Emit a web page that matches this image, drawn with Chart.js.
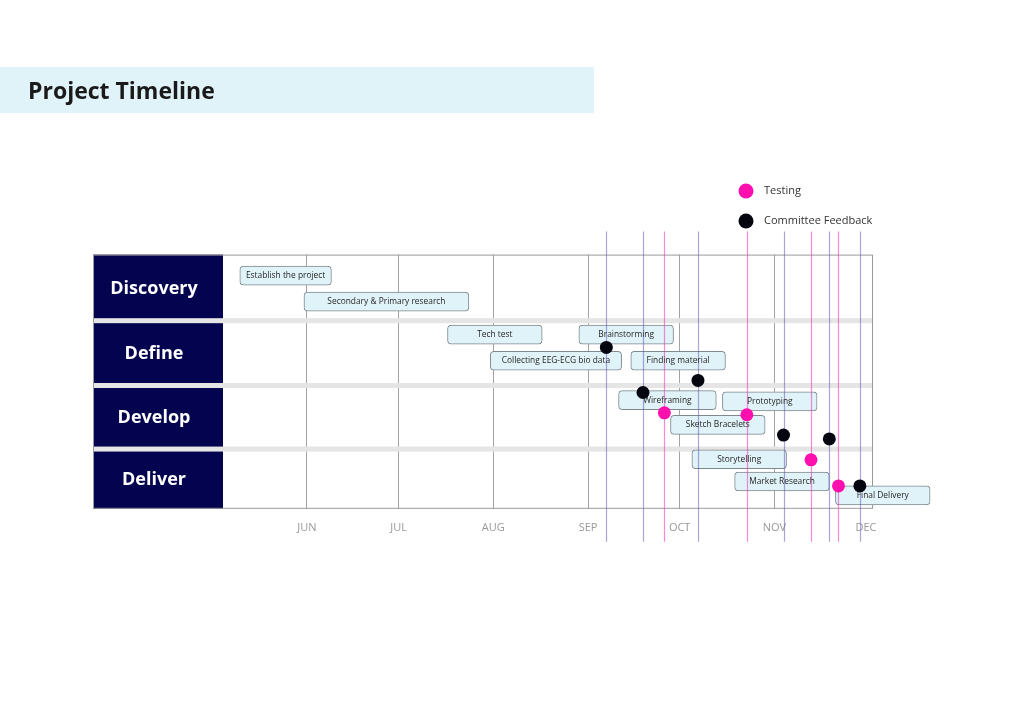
<!DOCTYPE html>
<html>
<head>
<meta charset="utf-8">
<title>Project Timeline</title>
<script src="https://cdn.jsdelivr.net/npm/chart.js@4.4.0/dist/chart.umd.min.js"></script>
<style>
  html, body { margin: 0; padding: 0; background: #fff; }
  #wrap { width: 1024px; height: 724px; position: relative; }
</style>
</head>
<body>
<div id="wrap"><canvas id="myChart"></canvas></div>
<script>
const ctx = document.getElementById("myChart").getContext("2d");

// phases down the left side, and where the grey separators sit on the row axis
const phases = ["Discovery", "Define", "Develop", "Deliver"];
const phaseBreaks = [1.04, 2.06, 3.06];

// month ticks
const monthLabels = ["JUN", "JUL", "AUG", "SEP", "OCT", "NOV", "DEC"];
const monthStarts = ["2023-06-01", "2023-07-01", "2023-08-01", "2023-09-01", "2023-10-01", "2023-11-01", "2023-12-01"];

// tasks
const taskNames = [
  "Establish the project",
  "Secondary & Primary research",
  "Tech test",
  "Brainstorming",
  "Collecting EEG-ECG bio data",
  "Finding material",
  "Wireframing",
  "Prototyping",
  "Sketch Bracelets",
  "Storytelling",
  "Market Research",
  "Final Delivery",
];
const taskStart = ["2023-05-10", "2023-05-31", "2023-07-17", "2023-08-29", "2023-07-31", "2023-09-15", "2023-09-11", "2023-10-15", "2023-09-28", "2023-10-05", "2023-10-19", "2023-11-21"];
const taskEnd = ["2023-06-09", "2023-07-24", "2023-08-17", "2023-09-29", "2023-09-12", "2023-10-16", "2023-10-13", "2023-11-15", "2023-10-29", "2023-11-05", "2023-11-19", "2023-12-22"];
const taskRow = [0.33, 0.74, 1.26, 1.26, 1.67, 1.67, 2.29, 2.31, 2.68, 3.22, 3.57, 3.79];

// milestones
const testingDates = ["2023-09-26", "2023-10-23", "2023-11-13", "2023-11-22"];
const testingRow = [2.49, 2.52, 3.23, 3.64];
const feedbackDates = ["2023-09-07", "2023-09-19", "2023-10-07", "2023-11-04", "2023-11-19", "2023-11-29"];
const feedbackRow = [1.46, 2.17, 1.98, 2.84, 2.9, 3.64];

// days counted from 1 June
const dayNum = (s) => (Date.parse(s) - Date.parse("2023-06-01")) / 86400000;

const FONT = "'Open Sans', 'Noto Sans', sans-serif";
const testingColor = "#ff0fae";
const feedbackColor = "#05050f";

const timelineDecor = {
  id: "timelineDecor",
  beforeDraw(chart) {
    const c = chart.ctx;
    c.save();
    // title band
    c.fillStyle = "#e0f3f8";
    c.fillRect(0, 67, 594, 46);
    c.restore();
  },
  beforeDatasetsDraw(chart) {
    const { ctx: c, chartArea: a } = chart;
    const y = chart.scales.y;
    const left = 93;
    const edges = [0, ...phaseBreaks, 4];
    c.save();
    phases.forEach((name, i) => {
      const top = y.getPixelForValue(edges[i]);
      const bottom = y.getPixelForValue(edges[i + 1]);
      c.fillStyle = "#03034f";
      c.fillRect(left, top, a.left - left, bottom - top);
      c.fillStyle = "#fff";
      c.font = "bold 18px " + FONT;
      c.textAlign = "center";
      c.textBaseline = "middle";
      c.fillText(name, 154, (top + bottom) / 2 + 1);
    });
    // grey separators between phases
    c.fillStyle = "#e5e5e5";
    phaseBreaks.forEach((v) => {
      const p = y.getPixelForValue(v);
      c.fillRect(left, p - 2.5, a.right - left, 5);
    });
    c.strokeStyle = "#9a9a9a";
    c.lineWidth = 1;
    c.strokeRect(left + 0.5, a.top + 0.5, a.right - left - 1, a.bottom - a.top - 1);
    c.restore();
  },
  afterDatasetDraw(chart, args) {
    if (args.index !== 0) return;
    const { ctx: c, chartArea: a } = chart;
    const x = chart.scales.x;
    c.save();
    // milestone guide lines
    const guides = [
      [chart.data.datasets[1].data, "rgba(236, 60, 190, 0.6)"],
      [chart.data.datasets[2].data, "rgba(100, 90, 190, 0.55)"],
    ];
    c.lineWidth = 1.2;
    guides.forEach(([pts, color]) => {
      c.strokeStyle = color;
      pts.forEach((p) => {
        const px = Math.round(x.getPixelForValue(p.x)) + 0.5;
        c.beginPath();
        c.moveTo(px, a.top - 23);
        c.lineTo(px, a.bottom + 33);
        c.stroke();
      });
    });
    // task names inside the bars
    c.fillStyle = "#262626";
    c.font = "8.4px " + FONT;
    c.textAlign = "center";
    c.textBaseline = "middle";
    chart.getDatasetMeta(0).data.forEach((bar, i) => {
      const pt = bar.getCenterPoint();
      c.fillText(taskNames[i], pt.x, pt.y);
    });
    c.restore();
  },
  afterDraw(chart) {
    const c = chart.ctx;
    c.save();
    [1, 2].forEach((di, k) => {
      const ds = chart.data.datasets[di];
      const cy = 191 + k * 30;
      c.fillStyle = ds.backgroundColor;
      c.beginPath();
      c.arc(746, cy, 7.5, 0, Math.PI * 2);
      c.fill();
      c.fillStyle = "#333";
      c.font = "11px " + FONT;
      c.textAlign = "left";
      c.textBaseline = "middle";
      c.fillText(ds.label, 764, cy);
    });
    c.restore();
  },
};

const data = {
  datasets: [
    {
      type: "bar",
      label: "Tasks",
      data: taskNames.map((n, i) => ({ x: [dayNum(taskStart[i]), dayNum(taskEnd[i])], y: taskRow[i] })),
      backgroundColor: "#e0f3f8",
      borderColor: "#7f898d",
      borderWidth: 1,
      borderRadius: 4,
      borderSkipped: false,
      barThickness: 19,
      clip: false,
      order: 3,
    },
    {
      type: "scatter",
      label: "Testing",
      data: testingDates.map((d, i) => ({ x: dayNum(d), y: testingRow[i] })),
      backgroundColor: testingColor,
      pointRadius: 6.5,
      borderWidth: 0,
      clip: false,
      order: 1,
    },
    {
      type: "scatter",
      label: "Committee Feedback",
      data: feedbackDates.map((d, i) => ({ x: dayNum(d), y: feedbackRow[i] })),
      backgroundColor: feedbackColor,
      pointRadius: 6.5,
      borderWidth: 0,
      clip: false,
      order: 2,
    },
  ],
};

const config = {
  type: "bar",
  data: data,
  plugins: [timelineDecor],
  options: {
    indexAxis: "y",
    responsive: true,
    maintainAspectRatio: false,
    animation: false,
    events: [],
    layout: {
      padding: { top: 0, left: 28, right: 151, bottom: 178 },
    },
    plugins: {
      legend: { display: false },
      tooltip: { enabled: false },
      title: {
        display: true,
        text: "Project Timeline",
        align: "start",
        color: "#1a1a1a",
        font: { family: FONT, size: 23, weight: "bold" },
        padding: { top: 79, bottom: 148 },
      },
    },
    scales: {
      x: {
        type: "linear",
        min: -27.5,
        max: 185.3,
        offset: false,
        beginAtZero: false,
        afterBuildTicks: (axis) => {
          axis.ticks = monthStarts.map((d) => ({ value: dayNum(d) }));
        },
        ticks: {
          autoSkip: false,
          maxRotation: 0,
          color: "#999",
          padding: 12,
          font: { family: FONT, size: 11 },
          callback: (value, index) => monthLabels[index],
        },
        grid: {
          offset: false,
          drawTicks: false,
          color: (c) => (c.tick && c.tick.value === dayNum("2023-12-01") ? "rgba(0,0,0,0)" : "#a3a3a3"),
        },
        border: { display: false },
      },
      y: {
        type: "linear",
        min: 0,
        max: 4,
        reverse: true,
        offset: false,
        ticks: { display: false },
        grid: { display: false, offset: false },
        border: { display: false },
        afterFit: (axis) => {
          axis.width = 195;
        },
      },
    },
  },
};

const myChart = new Chart(ctx, config);
</script>
</body>
</html>
